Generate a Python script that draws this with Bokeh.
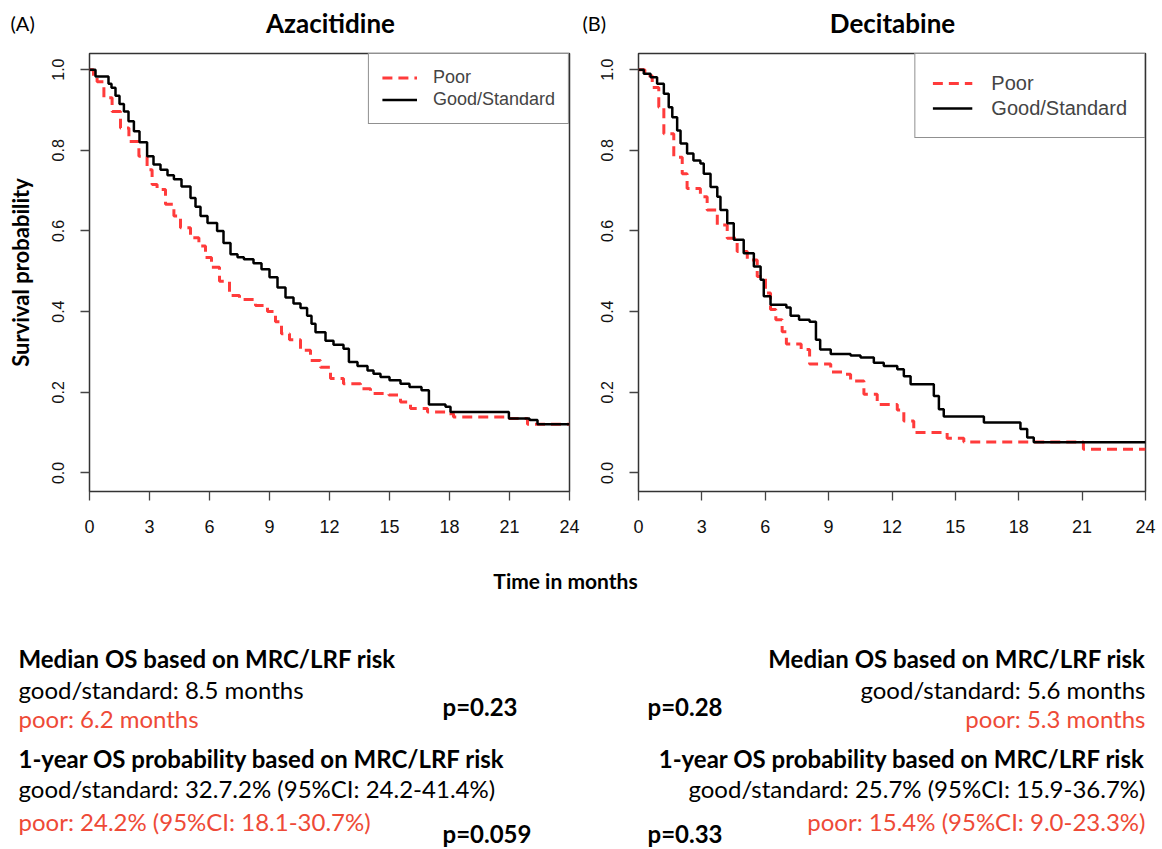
from bokeh.plotting import figure
from bokeh.layouts import column, row
from bokeh.models import Range1d, FixedTicker, PrintfTickFormatter, Legend, LegendItem, Label
from bokeh.embed import file_html
from bokeh.resources import INLINE

# ---------------- data ----------------
aza_good_t = [0, 0.3, 0.95, 1.1, 1.3, 1.5, 1.72, 1.95, 2.22, 2.5, 2.88, 3.2, 3.55, 3.9, 4.22, 4.6,
              5.05, 5.3, 5.55, 5.9, 6.38, 6.7, 7.05, 7.4, 7.72, 8.2, 8.6, 9.0, 9.4, 9.8, 10.2,
              10.55, 10.88, 11.1, 11.3, 11.8, 12.2, 12.7, 12.97, 13.4, 13.9, 14.2, 14.55, 15.0,
              15.55, 16.0, 16.6, 16.97, 17.8, 18.05, 20.97, 22.0, 22.4, 24]
aza_good_s = [1.0, 0.983, 0.965, 0.955, 0.935, 0.915, 0.896, 0.872, 0.847, 0.82, 0.785, 0.765, 0.752,
              0.738, 0.728, 0.71, 0.682, 0.66, 0.637, 0.62, 0.6, 0.57, 0.542, 0.535, 0.53, 0.52,
              0.505, 0.485, 0.46, 0.435, 0.42, 0.409, 0.39, 0.37, 0.349, 0.328, 0.318, 0.308,
              0.275, 0.265, 0.254, 0.246, 0.238, 0.23, 0.221, 0.213, 0.205, 0.17, 0.164, 0.151,
              0.135, 0.131, 0.121, 0.121]

aza_poor_t = [0, 0.2, 0.38, 0.72, 1.13, 1.55, 1.97, 2.47, 2.88, 3.13, 3.38, 3.8, 4.22, 4.55, 5.05,
              5.47, 5.8, 6.1, 6.5, 7.0, 7.5, 8.3, 8.9, 9.3, 9.6, 10.0, 10.55, 11.05, 11.55, 12.05,
              12.7, 13.55, 14.05, 14.97, 15.55, 16.05, 16.9, 17.9, 18.2, 20.9, 21.9, 24]
aza_poor_s = [1.0, 0.985, 0.97, 0.93, 0.896, 0.855, 0.822, 0.785, 0.752, 0.715, 0.703, 0.666, 0.637,
              0.608, 0.583, 0.563, 0.534, 0.51, 0.475, 0.44, 0.43, 0.415, 0.40, 0.375, 0.345, 0.33,
              0.304, 0.279, 0.262, 0.234, 0.221, 0.209, 0.197, 0.193, 0.176, 0.16, 0.151, 0.147,
              0.139, 0.135, 0.121, 0.121]

dec_good_t = [0, 0.25, 0.57, 0.88, 1.2, 1.43, 1.6, 1.83, 1.99, 2.3, 2.6, 2.93, 3.09, 3.41, 3.73, 3.88,
              4.2, 4.51, 4.98, 5.46, 5.78, 5.93, 6.25, 7.0, 7.2, 7.6, 8.1, 8.4, 8.6, 9.1, 10.04,
              10.51, 11.14, 11.61, 12.25, 12.56, 12.88, 13.98, 14.22, 14.45, 16.35, 18.08, 18.4,
              18.71, 24]
dec_good_s = [1.0, 0.99, 0.981, 0.965, 0.94, 0.907, 0.882, 0.849, 0.817, 0.792, 0.775, 0.767, 0.742,
              0.709, 0.685, 0.652, 0.619, 0.578, 0.545, 0.512, 0.479, 0.438, 0.417, 0.41, 0.39,
              0.38, 0.375, 0.33, 0.306, 0.295, 0.291, 0.286, 0.273, 0.265, 0.257, 0.24, 0.22,
              0.191, 0.158, 0.14, 0.125, 0.109, 0.088, 0.076, 0.076]

dec_poor_t = [0, 0.3, 0.65, 0.96, 1.2, 1.67, 2.07, 2.3, 2.93, 3.25, 3.73, 4.2, 4.67, 5.15, 5.62, 6.01,
              6.25, 6.5, 6.8, 7.0, 7.7, 8.1, 9.1, 9.8, 10.04, 10.67, 11.3, 12.25, 12.56, 13.03,
              14.61, 15.4, 21.06, 24]
dec_poor_s = [1.0, 0.985, 0.956, 0.907, 0.841, 0.783, 0.742, 0.705, 0.685, 0.652, 0.615, 0.582, 0.549,
              0.528, 0.487, 0.446, 0.405, 0.38, 0.35, 0.32, 0.306, 0.27, 0.25, 0.245, 0.228, 0.195,
              0.17, 0.156, 0.129, 0.1, 0.086, 0.077, 0.059, 0.059]

x_ticks = [0, 3, 6, 9, 12, 15, 18, 21, 24]
y_ticks = [0.0, 0.2, 0.4, 0.6, 0.8, 1.0]
series_labels = ["Poor", "Good/Standard"]
panel_titles = ["Azacitidine", "Decitabine"]
panel_tags = ["(A)", "(B)"]
x_title = "Time in months"
y_title = "Survival probability"

left_lines = ["Median OS based on MRC/LRF risk", "good/standard: 8.5 months", "poor: 6.2 months",
              "1-year OS probability based on MRC/LRF risk",
              "good/standard: 32.7.2% (95%CI: 24.2-41.4%)", "poor: 24.2% (95%CI: 18.1-30.7%)"]
right_lines = ["Median OS based on MRC/LRF risk", "good/standard: 5.6 months", "poor: 5.3 months",
               "1-year OS probability based on MRC/LRF risk",
               "good/standard: 25.7% (95%CI: 15.9-36.7%)", "poor: 15.4% (95%CI: 9.0-23.3%)"]
p_left = ["p=0.23", "p=0.059"]
p_right = ["p=0.28", "p=0.33"]

RED = "#ff3b3b"
RED_TXT = "#ee4a37"
AXFONT = "Liberation Sans"
TXTFONT = "Lato"


def km_panel(width, height, mb, poor, good, legend_cfg, show_ylabel):
    p = figure(width=width, height=height, x_range=Range1d(0, 24), y_range=Range1d(-0.046, 1.04),
               output_backend="svg", toolbar_location=None,
               min_border_left=mb[0], min_border_right=mb[1], min_border_top=mb[2], min_border_bottom=mb[3])
    p.grid.visible = False
    p.outline_line_color = "#333333"
    p.outline_line_width = 1.5
    r_poor = p.step(poor[0], poor[1], mode="after", line_color=RED, line_width=3, line_dash="10 6")
    r_good = p.step(good[0], good[1], mode="after", line_color="black", line_width=2.5)

    p.xaxis.ticker = FixedTicker(ticks=x_ticks)
    p.yaxis.ticker = FixedTicker(ticks=y_ticks)
    p.yaxis.formatter = PrintfTickFormatter(format="%.1f")
    for ax in (p.xaxis, p.yaxis):
        ax.axis_line_color = None
        ax.major_tick_line_color = "#444444"
        ax.major_tick_line_width = 1.3
        ax.major_tick_in = 0
        ax.major_tick_out = 9
        ax.minor_tick_line_color = None
        ax.major_label_text_font = AXFONT
        ax.major_label_text_color = "#111111"
    p.xaxis.major_label_text_font_size = "18px"
    p.yaxis.major_label_text_font_size = "16px"
    p.xaxis.major_label_standoff = 19
    p.yaxis.major_label_standoff = 16
    p.yaxis.major_label_orientation = "vertical"
    if show_ylabel:
        p.yaxis.axis_label = y_title
        p.yaxis.axis_label_text_font = TXTFONT
        p.yaxis.axis_label_text_font_style = "bold"
        p.yaxis.axis_label_text_font_size = "22px"
        p.yaxis.axis_label_text_color = "black"
        p.yaxis.axis_label_standoff = 16

    fs, pad, gw, so = legend_cfg
    leg = Legend(items=[LegendItem(label=series_labels[0], renderers=[r_poor]),
                        LegendItem(label=series_labels[1], renderers=[r_good])],
                 location="top_right", margin=0, padding=pad, spacing=1,
                 glyph_width=gw, glyph_height=int(fs * 1.2), label_standoff=so,
                 label_height=int(fs * 1.2),
                 label_text_font=AXFONT, label_text_font_size=f"{fs}px",
                 border_line_color="#222222", border_line_width=1.5,
                 background_fill_color="white", background_fill_alpha=1)
    p.add_layout(leg)
    return p


def text_fig(width, height):
    p = figure(width=width, height=height, x_range=Range1d(0, width), y_range=Range1d(height, 0),
               output_backend="svg", toolbar_location=None, x_axis_location=None, y_axis_location=None,
               min_border=0)
    p.grid.visible = False
    p.outline_line_color = None
    return p


def lab(p, x, y, t, size, bold=False, color="black", align="left", font=TXTFONT):
    p.add_layout(Label(x=x, y=y, text=t, text_font=font, text_font_size=f"{size}px",
                       text_font_style="bold" if bold else "normal", text_color=color,
                       text_align=align, text_baseline="middle"))


# ---------------- layout ----------------
W = 1162
top = text_fig(W, 44)
lab(top, 10, 22, panel_tags[0], 20)
lab(top, 330, 22, panel_titles[0], 26, bold=True, align="center")
lab(top, 582, 22, panel_tags[1], 20)
lab(top, 892, 22, panel_titles[1], 26, bold=True, align="center")

pa = km_panel(581, 520, (89, 12, 8, 70), (aza_poor_t, aza_poor_s), (aza_good_t, aza_good_s),
              (18, 13, 35, 16), True)
pb = km_panel(581, 520, (57, 17, 9, 73), (dec_poor_t, dec_poor_s), (dec_good_t, dec_good_s),
              (20, 17, 40, 19), False)

bot = text_fig(W, 283)
lab(bot, 565, 16, x_title, 21, bold=True, align="center")
ys = [94, 125, 154, 194, 224, 257]
FS = 24
for i, t in enumerate(left_lines):
    bold = i in (0, 3)
    col = RED_TXT if i in (2, 5) else "black"
    lab(bot, 18, ys[i], t, FS, bold=bold, color=col)
for i, t in enumerate(right_lines):
    bold = i in (0, 3)
    col = RED_TXT if i in (2, 5) else "black"
    lab(bot, 1145, ys[i], t, FS, bold=bold, color=col, align="right")
lab(bot, 442, 142, p_left[0], FS, bold=True)
lab(bot, 442, 269, p_left[1], FS, bold=True)
lab(bot, 647, 142, p_right[0], FS, bold=True)
lab(bot, 647, 269, p_right[1], FS, bold=True)

layout = column(top, row(pa, pb), bot)
open("out.html", "w").write(file_html(layout, INLINE))
